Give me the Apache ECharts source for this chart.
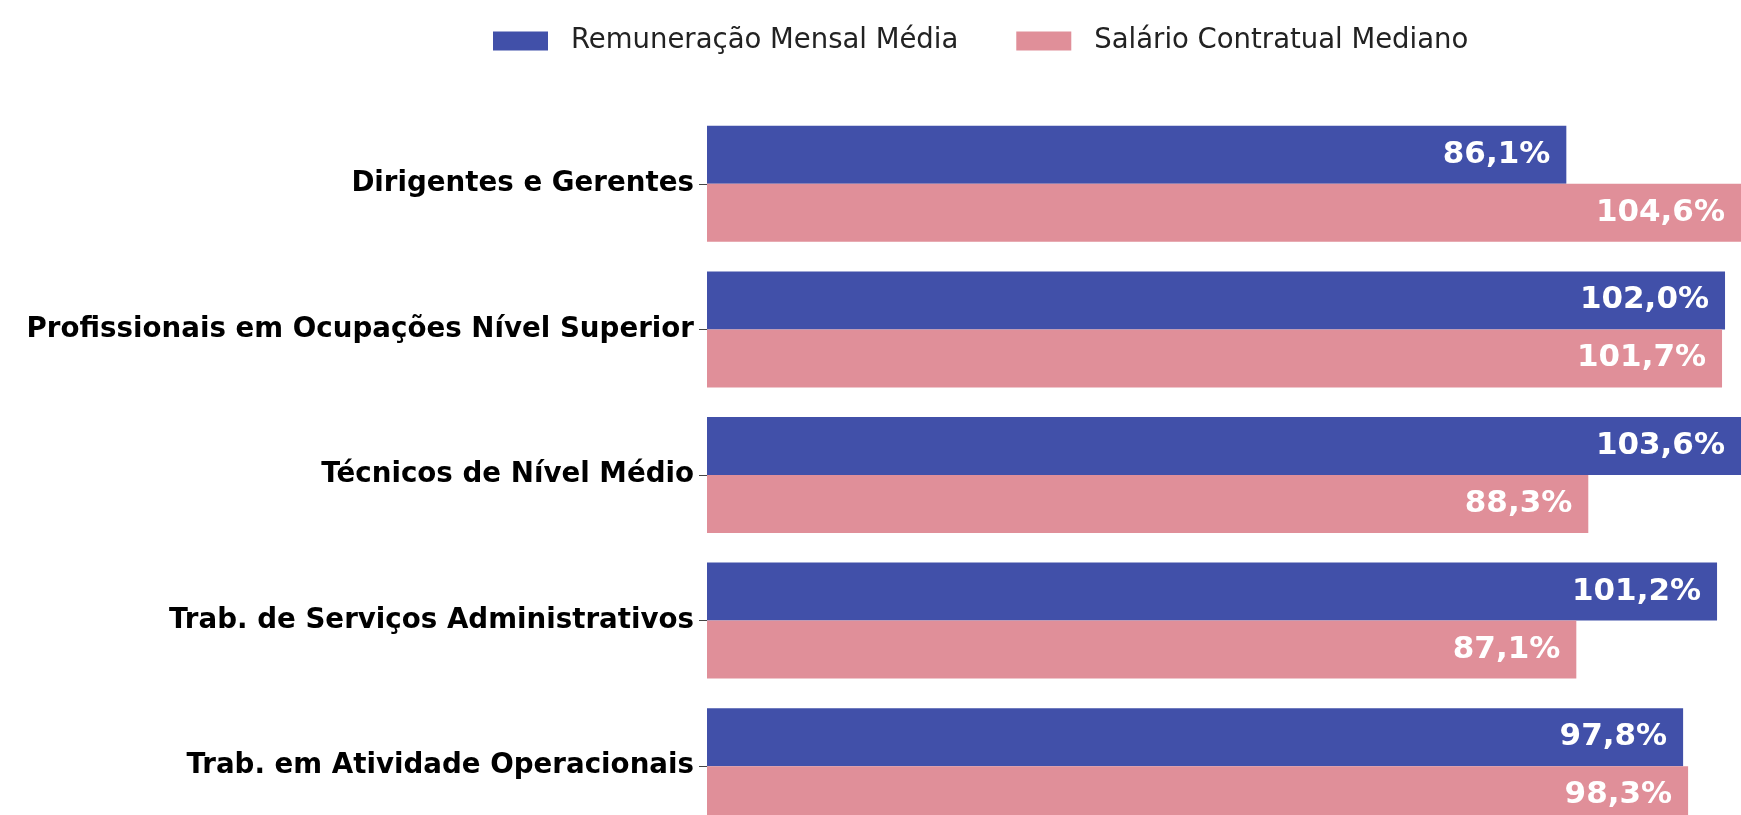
<!DOCTYPE html>
<html>
<head>
<meta charset="UTF-8">
<title>Remuneração por grupo ocupacional</title>
<script src="https://cdn.jsdelivr.net/npm/echarts@6/dist/echarts.min.js"></script>
<style>
  * { margin: 0; padding: 0; }
  html, body { width: 1741px; height: 815px; overflow: hidden; background: #fff; }
  #main { width: 1741px; height: 840px; }
</style>
</head>
<body>
<div id="main"></div>
<script>
var categorias = [
  'Dirigentes e Gerentes',
  'Profissionais em Ocupações Nível Superior',
  'Técnicos de Nível Médio',
  'Trab. de Serviços Administrativos',
  'Trab. em Atividade Operacionais'
];
var remuneracaoMedia = [86.1, 102.0, 103.6, 101.2, 97.8];
var salarioMediano = [104.6, 101.7, 88.3, 87.1, 98.3];

var fmt = function (p) { return p.value.toFixed(1).replace('.', ',') + '%'; };
var barLabel = {
  show: true,
  position: 'insideRight',
  distance: 16,
  formatter: fmt,
  color: '#fff',
  fontFamily: 'DejaVu Sans',
  fontWeight: 'bold',
  fontSize: 31
};

var myChart = echarts.init(document.getElementById('main'));
var option = {
  animation: false,
  legend: {
    top: 22,
    left: 488,
    itemWidth: 55,
    itemHeight: 19,
    itemGap: 58,
    icon: 'rect',
    textStyle: {
      fontFamily: 'DejaVu Sans',
      fontSize: 27.5,
      color: '#222',
      padding: [0, 0, 0, 18]
    }
  },
  grid: { left: 707, right: 0, top: 111, bottom: 1 },
  xAxis: {
    type: 'value',
    min: 0,
    max: 103.6,
    show: false
  },
  yAxis: {
    type: 'category',
    inverse: true,
    data: categorias,
    axisLine: { show: false },
    axisTick: { show: true, alignWithLabel: true, length: 8, lineStyle: { color: '#444' } },
    axisLabel: {
      margin: 13,
      color: '#000',
      fontFamily: 'DejaVu Sans',
      fontWeight: 'bold',
      fontSize: 27.7
    }
  },
  series: [
    {
      name: 'Remuneração Mensal Média',
      type: 'bar',
      data: remuneracaoMedia,
      barWidth: 58,
      barGap: '0%',
      itemStyle: { color: '#4150A9' },
      label: barLabel
    },
    {
      name: 'Salário Contratual Mediano',
      type: 'bar',
      data: salarioMediano,
      barWidth: 58,
      barGap: '0%',
      itemStyle: { color: '#E08F99' },
      label: barLabel
    }
  ]
};
myChart.setOption(option);
</script>
</body>
</html>
